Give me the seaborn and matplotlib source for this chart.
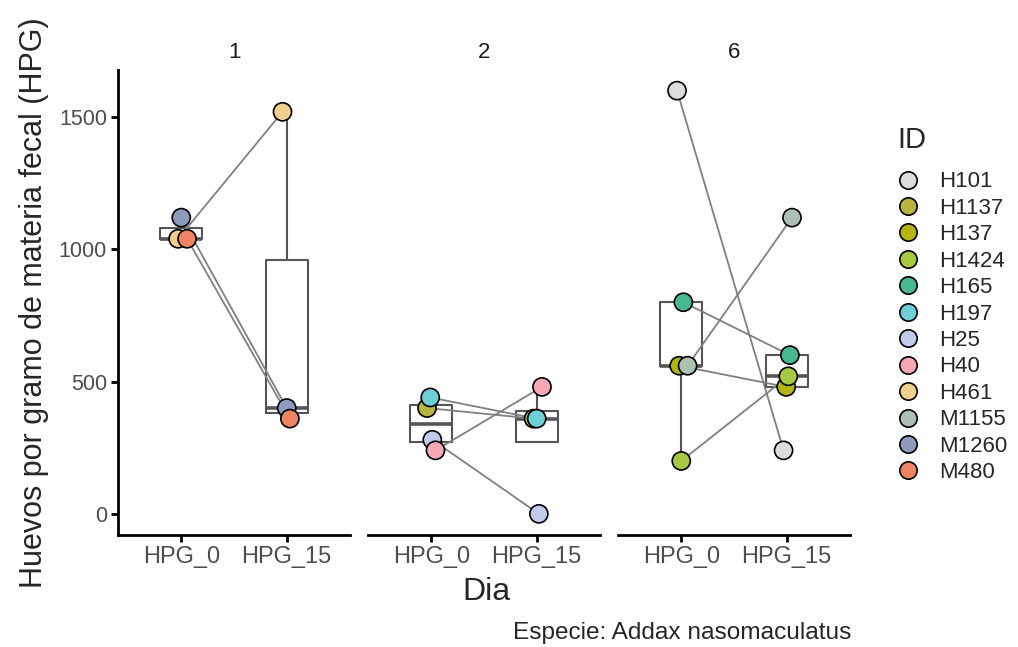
import numpy as np
import pandas as pd
import matplotlib
matplotlib.use("Agg")
import matplotlib.pyplot as plt
from matplotlib.lines import Line2D
import seaborn as sns

# data
dias = ["1", "2", "6"]
dia_ids = {
    "1": ["H461", "M1260", "M480"],
    "2": ["H1137", "H197", "H25", "H40"],
    "6": ["H101", "H137", "H1424", "H165", "M1155"],
}
hpg_0 = {
    "1": [1040, 1120, 1040],
    "2": [400, 440, 280, 240],
    "6": [1600, 560, 200, 800, 560],
}
hpg_15 = {
    "1": [1520, 400, 360],
    "2": [360, 360, 0, 480],
    "6": [240, 480, 520, 600, 1120],
}
ids = ["H101", "H1137", "H137", "H1424", "H165", "H197", "H25", "H40",
       "H461", "M1155", "M1260", "M480"]
colores = ["#dcdcdc", "#b6b540", "#b3b512", "#a6c843", "#48b98e", "#6fcfd6",
           "#c1cbe9", "#f7a8b4", "#f0d08e", "#abc1b2", "#8f9bbd", "#ee8462"]
niveles = ["HPG_0", "HPG_15"]

# small fixed horizontal jitter (like the reference), per point
jit_0 = {"1": [-0.03, 0.0, 0.055], "2": [-0.04, -0.01, 0.01, 0.04],
         "6": [-0.04, -0.02, 0.0, 0.02, 0.06]}
jit_15 = {"1": [-0.04, 0.0, 0.03], "2": [-0.03, 0.0, 0.02, 0.05],
          "6": [-0.03, -0.005, 0.015, 0.03, 0.05]}

rows = []
for d in dias:
    for i, idn in enumerate(dia_ids[d]):
        rows.append(dict(Dia=d, ID=idn, Tiempo="HPG_0", HPG=hpg_0[d][i], xj=0 + jit_0[d][i]))
        rows.append(dict(Dia=d, ID=idn, Tiempo="HPG_15", HPG=hpg_15[d][i], xj=1 + jit_15[d][i]))
df = pd.DataFrame(rows)
pal = dict(zip(ids, colores))

sns.set_style("white")
plt.rcParams['font.family'] = ['Liberation Sans', 'DejaVu Sans']

fig, axes = plt.subplots(1, 3, figsize=(10.18, 6.47), dpi=100, sharey=True)
plt.subplots_adjust(left=118/1018, right=850/1018, bottom=(647-535)/647,
                    top=(647-69.5)/647, wspace=18/232)

box_col = "#555555"
for ax, d in zip(axes, dias):
    sub = df[df.Dia == d]
    sns.boxplot(data=sub, x="Tiempo", y="HPG", order=niveles, ax=ax, fill=False,
                color=box_col, width=0.4, linewidth=1.5, showfliers=False,
                showcaps=False, whis=1.5,
                medianprops=dict(linewidth=2.6, color=box_col))
    sns.lineplot(data=sub, x="xj", y="HPG", units="ID", estimator=None, ax=ax,
                 color="#808080", linewidth=1.3, legend=False, zorder=3)
    sns.scatterplot(data=sub, x="xj", y="HPG", hue="ID", palette=pal, ax=ax,
                    s=170, edgecolor="black", linewidth=1.2, legend=False, zorder=4)
    ax.set_xlim(-0.6, 1.6)
    ax.set_ylim(-80, 1680)
    ax.set_xticks([0, 1])
    ax.set_xticklabels(niveles)
    ax.set_xlabel("")
    ax.set_ylabel("")
    ax.set_title(d, fontsize=16, color="#1a1a1a", pad=8)
    for s in ["top", "right"]:
        ax.spines[s].set_visible(False)
    ax.spines["bottom"].set_linewidth(2)
    ax.spines["bottom"].set_color("black")
    ax.tick_params(axis="x", length=5, width=2, color="black",
                   labelsize=17, labelcolor="#4d4d4d", pad=3, bottom=True)
    if ax is axes[0]:
        ax.spines["left"].set_linewidth(2)
        ax.spines["left"].set_color("black")
        ax.tick_params(axis="y", length=5, width=2, color="black",
                       labelsize=15.5, labelcolor="#4d4d4d", pad=3, left=True)
    else:
        ax.spines["left"].set_visible(False)
        ax.tick_params(axis="y", left=False, labelleft=False)

axes[0].set_yticks([0, 500, 1000, 1500])
axes[0].set_ylabel("Huevos por gramo de materia fecal (HPG)", fontsize=22, labelpad=7)

fig.text(486/1018, (647-592)/647, "Dia", fontsize=23, ha="center", va="center")
fig.text(851/1018, (647-633)/647, "Especie: Addax nasomaculatus", fontsize=17.6,
         ha="right", va="center")

handles = [Line2D([], [], marker="o", linestyle="", markersize=12.5,
                  markerfacecolor=pal[i], markeredgecolor="black",
                  markeredgewidth=1.2, label=i) for i in ids]
leg = fig.legend(handles=handles, title="ID", loc="upper left",
                 bbox_to_anchor=(897/1018, (647-126)/647), frameon=False,
                 fontsize=16, title_fontsize=21, labelspacing=0.245,
                 handlelength=1.0, handletextpad=0.9, borderaxespad=0,
                 borderpad=0)
leg._legend_box.align = "left"
leg._legend_box.sep = 12.5

fig.savefig("out.png", dpi=100)
